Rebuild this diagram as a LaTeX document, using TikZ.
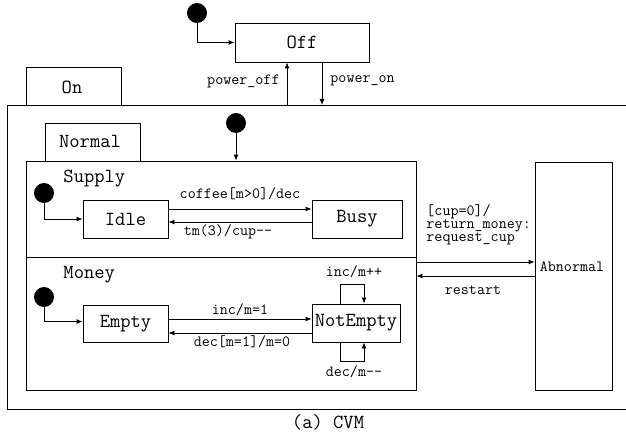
\documentclass[tikz,border=0pt]{standalone}
\usepackage{fontspec}
\usetikzlibrary{arrows.meta,calc}
\begin{document}
\begin{tikzpicture}[x=1pt,y=-1pt,line width=0.9pt,
  every node/.style={font=\ttfamily},
  big/.style={font=\fontsize{20}{20}\selectfont\ttfamily},
  small/.style={font=\fontsize{15.6}{13.2}\selectfont\ttfamily},
  box/.style={draw,rectangle,inner sep=0pt,big},
  initdot/.style={circle,fill=black,draw=black,minimum size=19pt,inner sep=0pt},
  arr/.style={-{Latex[length=6pt,width=5pt]}},
  lbl/.style={small,inner sep=0pt}]
\useasboundingbox (0,0) rectangle (626,433);

% outer "On" superstate, open at the right
\draw (626,105) -- (7,105) -- (7,409) -- (626,409);
\node[box,minimum width=95pt,minimum height=38pt] (ontab) at (73.5,86) {};
\node[big] at (72,87) {On};

% "Normal" superstate with two concurrent regions
\node[box,minimum width=95pt,minimum height=38pt] (normtab) at (92.5,142) {};
\node[big] at (90,141) {Normal};
\node[box,minimum width=390pt,minimum height=229pt] (normal) at (221,275.5) {};
\draw (normal.west |- 0,257) -- (normal.east |- 0,257);
\node[big,anchor=west,inner sep=0pt] (supply) at (63,179) {Supply};
\node[big,anchor=west,inner sep=0pt] (money) at (63,275) {Money};

% Off state
\node[box,minimum width=134pt,minimum height=39pt] (off) at (302,42.5) {Off};
\node[initdot] (d0) at (197,13) {};
\draw[arr] (d0.south) |- (off.west);
\coordinate (poff) at (287,105);
\coordinate (pon) at (322,105);
\draw[arr] (poff) -- (poff |- off.south);
\draw[arr] (pon |- off.south) -- (pon);
\node[lbl,anchor=east] (lpoff) at (280,81) {power\_off};
\node[lbl,anchor=west] (lpon) at (330,81) {power\_on};

% initial entry of Normal
\node[initdot] (dn) at (236,123) {};
\draw[arr] (dn.south) -- (dn |- normal.north);

% Supply region
\node[box,minimum width=85pt,minimum height=38pt] (idle) at (125.5,219) {Idle};
\node[box,minimum width=90pt,minimum height=38pt] (busy) at (357,219) {Busy};
\node[initdot] (ds) at (44,193) {};
\draw[arr] (ds.south) |- (idle.west);
\draw[arr] ([yshift=10pt]idle.east) -- ([yshift=10pt]busy.west);
\draw[arr] ([yshift=-3pt]busy.west) -- ([yshift=-3pt]idle.east);
\node[lbl] (lcof) at (240,194) {coffee[m>0]/dec};
\node[lbl] (ltm) at (228,232) {tm(3)/cup--};

% Money region
\node[box,minimum width=85pt,minimum height=37pt] (empty) at (125.5,323.5) {Empty};
\node[box,minimum width=88pt,minimum height=38pt] (ne) at (356,323) {NotEmpty};
\node[initdot] (dm) at (44,297) {};
\draw[arr] (dm.south) |- ([yshift=2pt]empty.west);
\draw[arr] ([yshift=4.5pt]empty.east) -- ([yshift=4.5pt]empty.east -| ne.west);
\draw[arr] ([yshift=-9.5pt]empty.east -| ne.west) -- ([yshift=-9.5pt]empty.east);
\node[lbl] (linc) at (240,310) {inc/m=1};
\node[lbl] (ldec) at (242,342) {dec[m=1]/m=0};
\draw[arr] ([xshift=-16pt]ne.north) -- ++(0,-19) -| ([xshift=8pt]ne.north);
\draw[arr] ([xshift=-16pt]ne.south) -- ++(0,19) -| ([xshift=8pt]ne.south);
\node[lbl] (lincp) at (354,272) {inc/m++};
\node[lbl] (ldecm) at (354,372) {dec/m--};

% Abnormal state
\node[box,minimum width=77pt,minimum height=228pt] (abn) at (573.5,276) {};
\node[lbl] (labn) at (572,267) {Abnormal};
\draw[arr] ([yshift=14pt]abn.west -| normal.east) -- ([yshift=14pt]abn.west);
\draw[arr] (abn.west) -- (abn.west -| normal.east);
\node[lbl,anchor=west,align=left] (lcup) at (426,225) {[cup=0]/\\return\_money:\\request\_cup};
\node[lbl] (lrst) at (473,290) {restart};

% caption
\node[big] (cap) at (328,422) {(a) CVM};
\end{tikzpicture}
\end{document}
